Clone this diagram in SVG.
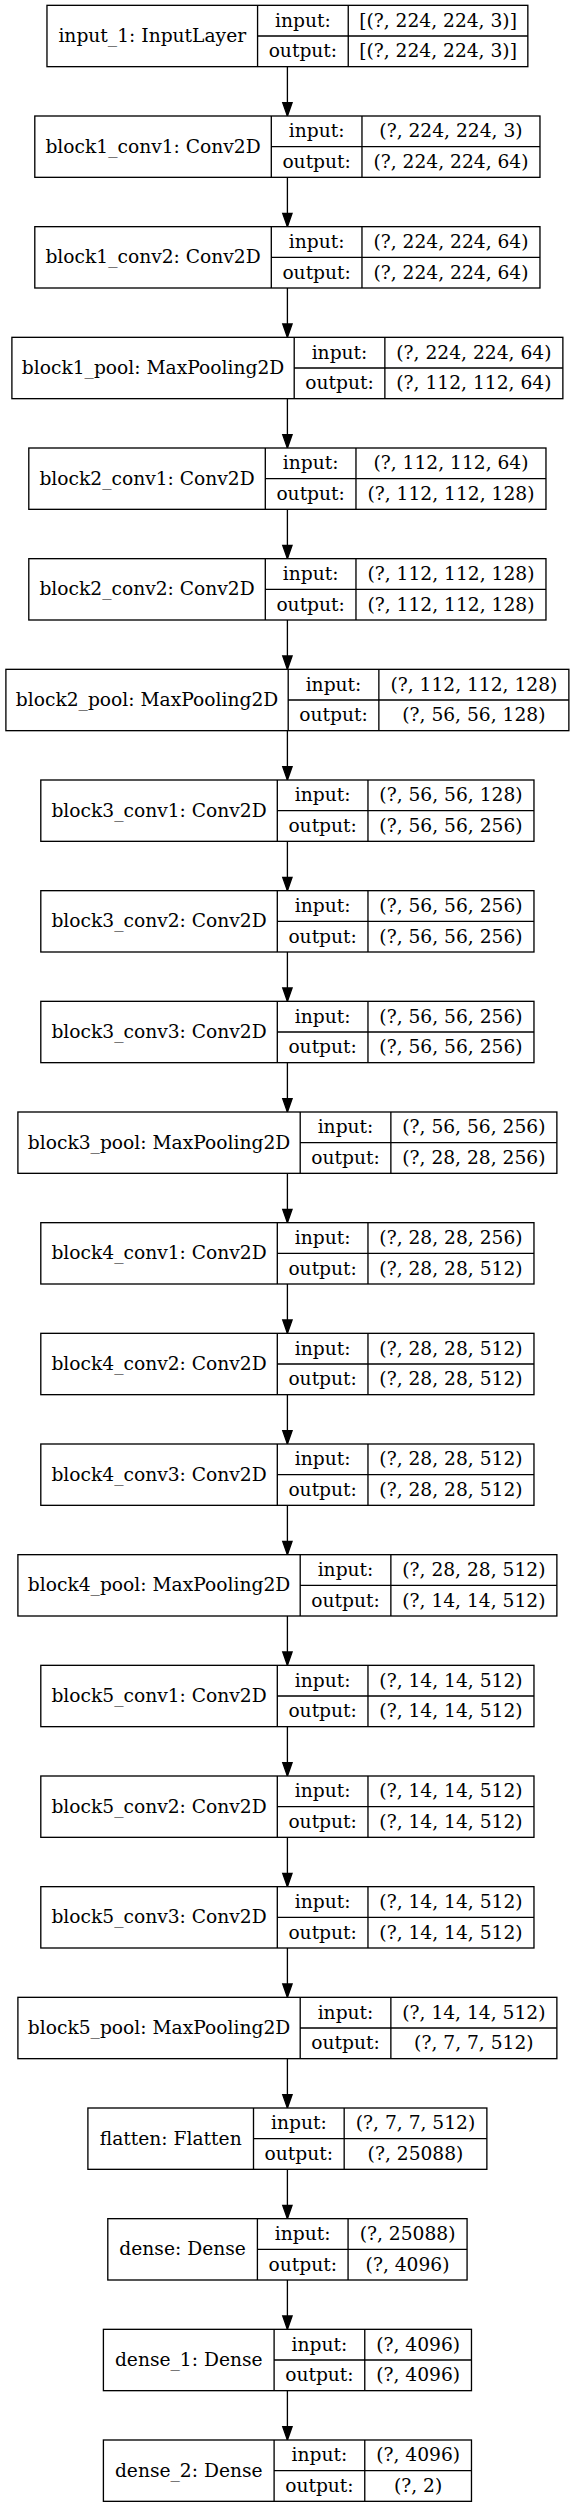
<svg xmlns="http://www.w3.org/2000/svg" width="575" height="2508" viewBox="0 0 575 2508">
<style>
.bg{fill:#fff}
.box{fill:#fff;stroke:#000;stroke-width:1.33}
.sep{fill:none;stroke:#000;stroke-width:1.33}
.t{font-family:"DejaVu Serif","Liberation Serif",serif;font-size:18.67px;text-anchor:middle;fill:#000}
.edge{fill:none;stroke:#000;stroke-width:1.33;marker-end:url(#arr)}
</style>
<defs>
<marker id="arr" markerUnits="userSpaceOnUse" markerWidth="16" markerHeight="12" refX="13.33" refY="4.67" orient="auto" viewBox="-1 -1 16 12">
<path d="M0,0 L13.33,4.67 L0,9.33 Z" fill="#000" stroke="#000" stroke-width="1.33"/>
</marker>
</defs>
<rect class="bg" x="0" y="0" width="575" height="2508"/>
<g id="connectors">
<line class="edge" x1="287.4" y1="66.67" x2="287.4" y2="116.00"/>
<line class="edge" x1="287.4" y1="177.33" x2="287.4" y2="226.67"/>
<line class="edge" x1="287.4" y1="288.00" x2="287.4" y2="337.33"/>
<line class="edge" x1="287.4" y1="398.67" x2="287.4" y2="448.00"/>
<line class="edge" x1="287.4" y1="509.33" x2="287.4" y2="558.67"/>
<line class="edge" x1="287.4" y1="620.00" x2="287.4" y2="669.33"/>
<line class="edge" x1="287.4" y1="730.67" x2="287.4" y2="780.00"/>
<line class="edge" x1="287.4" y1="841.33" x2="287.4" y2="890.67"/>
<line class="edge" x1="287.4" y1="952.00" x2="287.4" y2="1001.33"/>
<line class="edge" x1="287.4" y1="1062.67" x2="287.4" y2="1112.00"/>
<line class="edge" x1="287.4" y1="1173.33" x2="287.4" y2="1222.67"/>
<line class="edge" x1="287.4" y1="1284.00" x2="287.4" y2="1333.33"/>
<line class="edge" x1="287.4" y1="1394.67" x2="287.4" y2="1444.00"/>
<line class="edge" x1="287.4" y1="1505.33" x2="287.4" y2="1554.67"/>
<line class="edge" x1="287.4" y1="1616.00" x2="287.4" y2="1665.33"/>
<line class="edge" x1="287.4" y1="1726.67" x2="287.4" y2="1776.00"/>
<line class="edge" x1="287.4" y1="1837.33" x2="287.4" y2="1886.67"/>
<line class="edge" x1="287.4" y1="1948.00" x2="287.4" y2="1997.33"/>
<line class="edge" x1="287.4" y1="2058.67" x2="287.4" y2="2108.00"/>
<line class="edge" x1="287.4" y1="2169.33" x2="287.4" y2="2218.67"/>
<line class="edge" x1="287.4" y1="2280.00" x2="287.4" y2="2329.33"/>
<line class="edge" x1="287.4" y1="2390.67" x2="287.4" y2="2440.00"/>
</g>

<g id="input_1" transform="translate(46.97,5.33)">
<rect class="box" x="0" y="0" width="480.87" height="61.33"/>
<path class="sep" d="M210.6,0V61.33M301.27,0V61.33M210.6,30.67H480.87"/>
<text class="t" x="105.3" y="36.67">input_1: InputLayer</text>
<text class="t" x="255.93" y="21.33">input:</text>
<text class="t" x="255.93" y="52">output:</text>
<text class="t" x="391.07" y="21.33">[(?, 224, 224, 3)]</text>
<text class="t" x="391.07" y="52">[(?, 224, 224, 3)]</text>
</g>

<g id="block1_conv1" transform="translate(34.8,116.00)">
<rect class="box" x="0" y="0" width="505.17" height="61.33"/>
<path class="sep" d="M236.5,0V61.33M327.17,0V61.33M236.5,30.67H505.17"/>
<text class="t" x="118.25" y="36.67">block1_conv1: Conv2D</text>
<text class="t" x="281.83" y="21.33">input:</text>
<text class="t" x="281.83" y="52">output:</text>
<text class="t" x="416.17" y="21.33">(?, 224, 224, 3)</text>
<text class="t" x="416.17" y="52">(?, 224, 224, 64)</text>
</g>

<g id="block1_conv2" transform="translate(34.8,226.67)">
<rect class="box" x="0" y="0" width="505.17" height="61.33"/>
<path class="sep" d="M236.5,0V61.33M327.17,0V61.33M236.5,30.67H505.17"/>
<text class="t" x="118.25" y="36.67">block1_conv2: Conv2D</text>
<text class="t" x="281.83" y="21.33">input:</text>
<text class="t" x="281.83" y="52">output:</text>
<text class="t" x="416.17" y="21.33">(?, 224, 224, 64)</text>
<text class="t" x="416.17" y="52">(?, 224, 224, 64)</text>
</g>

<g id="block1_pool" transform="translate(11.9,337.33)">
<rect class="box" x="0" y="0" width="550.97" height="61.33"/>
<path class="sep" d="M282.3,0V61.33M372.97,0V61.33M282.3,30.67H550.97"/>
<text class="t" x="141.15" y="36.67">block1_pool: MaxPooling2D</text>
<text class="t" x="327.63" y="21.33">input:</text>
<text class="t" x="327.63" y="52">output:</text>
<text class="t" x="461.97" y="21.33">(?, 224, 224, 64)</text>
<text class="t" x="461.97" y="52">(?, 112, 112, 64)</text>
</g>

<g id="block2_conv1" transform="translate(28.8,448.00)">
<rect class="box" x="0" y="0" width="517.17" height="61.33"/>
<path class="sep" d="M236.5,0V61.33M327.17,0V61.33M236.5,30.67H517.17"/>
<text class="t" x="118.25" y="36.67">block2_conv1: Conv2D</text>
<text class="t" x="281.83" y="21.33">input:</text>
<text class="t" x="281.83" y="52">output:</text>
<text class="t" x="422.17" y="21.33">(?, 112, 112, 64)</text>
<text class="t" x="422.17" y="52">(?, 112, 112, 128)</text>
</g>

<g id="block2_conv2" transform="translate(28.8,558.67)">
<rect class="box" x="0" y="0" width="517.17" height="61.33"/>
<path class="sep" d="M236.5,0V61.33M327.17,0V61.33M236.5,30.67H517.17"/>
<text class="t" x="118.25" y="36.67">block2_conv2: Conv2D</text>
<text class="t" x="281.83" y="21.33">input:</text>
<text class="t" x="281.83" y="52">output:</text>
<text class="t" x="422.17" y="21.33">(?, 112, 112, 128)</text>
<text class="t" x="422.17" y="52">(?, 112, 112, 128)</text>
</g>

<g id="block2_pool" transform="translate(5.9,669.33)">
<rect class="box" x="0" y="0" width="562.97" height="61.33"/>
<path class="sep" d="M282.3,0V61.33M372.97,0V61.33M282.3,30.67H562.97"/>
<text class="t" x="141.15" y="36.67">block2_pool: MaxPooling2D</text>
<text class="t" x="327.63" y="21.33">input:</text>
<text class="t" x="327.63" y="52">output:</text>
<text class="t" x="467.97" y="21.33">(?, 112, 112, 128)</text>
<text class="t" x="467.97" y="52">(?, 56, 56, 128)</text>
</g>

<g id="block3_conv1" transform="translate(40.8,780.00)">
<rect class="box" x="0" y="0" width="493.17" height="61.33"/>
<path class="sep" d="M236.5,0V61.33M327.17,0V61.33M236.5,30.67H493.17"/>
<text class="t" x="118.25" y="36.67">block3_conv1: Conv2D</text>
<text class="t" x="281.83" y="21.33">input:</text>
<text class="t" x="281.83" y="52">output:</text>
<text class="t" x="410.17" y="21.33">(?, 56, 56, 128)</text>
<text class="t" x="410.17" y="52">(?, 56, 56, 256)</text>
</g>

<g id="block3_conv2" transform="translate(40.8,890.67)">
<rect class="box" x="0" y="0" width="493.17" height="61.33"/>
<path class="sep" d="M236.5,0V61.33M327.17,0V61.33M236.5,30.67H493.17"/>
<text class="t" x="118.25" y="36.67">block3_conv2: Conv2D</text>
<text class="t" x="281.83" y="21.33">input:</text>
<text class="t" x="281.83" y="52">output:</text>
<text class="t" x="410.17" y="21.33">(?, 56, 56, 256)</text>
<text class="t" x="410.17" y="52">(?, 56, 56, 256)</text>
</g>

<g id="block3_conv3" transform="translate(40.8,1001.33)">
<rect class="box" x="0" y="0" width="493.17" height="61.33"/>
<path class="sep" d="M236.5,0V61.33M327.17,0V61.33M236.5,30.67H493.17"/>
<text class="t" x="118.25" y="36.67">block3_conv3: Conv2D</text>
<text class="t" x="281.83" y="21.33">input:</text>
<text class="t" x="281.83" y="52">output:</text>
<text class="t" x="410.17" y="21.33">(?, 56, 56, 256)</text>
<text class="t" x="410.17" y="52">(?, 56, 56, 256)</text>
</g>

<g id="block3_pool" transform="translate(17.9,1112.00)">
<rect class="box" x="0" y="0" width="538.97" height="61.33"/>
<path class="sep" d="M282.3,0V61.33M372.97,0V61.33M282.3,30.67H538.97"/>
<text class="t" x="141.15" y="36.67">block3_pool: MaxPooling2D</text>
<text class="t" x="327.63" y="21.33">input:</text>
<text class="t" x="327.63" y="52">output:</text>
<text class="t" x="455.97" y="21.33">(?, 56, 56, 256)</text>
<text class="t" x="455.97" y="52">(?, 28, 28, 256)</text>
</g>

<g id="block4_conv1" transform="translate(40.8,1222.67)">
<rect class="box" x="0" y="0" width="493.17" height="61.33"/>
<path class="sep" d="M236.5,0V61.33M327.17,0V61.33M236.5,30.67H493.17"/>
<text class="t" x="118.25" y="36.67">block4_conv1: Conv2D</text>
<text class="t" x="281.83" y="21.33">input:</text>
<text class="t" x="281.83" y="52">output:</text>
<text class="t" x="410.17" y="21.33">(?, 28, 28, 256)</text>
<text class="t" x="410.17" y="52">(?, 28, 28, 512)</text>
</g>

<g id="block4_conv2" transform="translate(40.8,1333.33)">
<rect class="box" x="0" y="0" width="493.17" height="61.33"/>
<path class="sep" d="M236.5,0V61.33M327.17,0V61.33M236.5,30.67H493.17"/>
<text class="t" x="118.25" y="36.67">block4_conv2: Conv2D</text>
<text class="t" x="281.83" y="21.33">input:</text>
<text class="t" x="281.83" y="52">output:</text>
<text class="t" x="410.17" y="21.33">(?, 28, 28, 512)</text>
<text class="t" x="410.17" y="52">(?, 28, 28, 512)</text>
</g>

<g id="block4_conv3" transform="translate(40.8,1444.00)">
<rect class="box" x="0" y="0" width="493.17" height="61.33"/>
<path class="sep" d="M236.5,0V61.33M327.17,0V61.33M236.5,30.67H493.17"/>
<text class="t" x="118.25" y="36.67">block4_conv3: Conv2D</text>
<text class="t" x="281.83" y="21.33">input:</text>
<text class="t" x="281.83" y="52">output:</text>
<text class="t" x="410.17" y="21.33">(?, 28, 28, 512)</text>
<text class="t" x="410.17" y="52">(?, 28, 28, 512)</text>
</g>

<g id="block4_pool" transform="translate(17.9,1554.67)">
<rect class="box" x="0" y="0" width="538.97" height="61.33"/>
<path class="sep" d="M282.3,0V61.33M372.97,0V61.33M282.3,30.67H538.97"/>
<text class="t" x="141.15" y="36.67">block4_pool: MaxPooling2D</text>
<text class="t" x="327.63" y="21.33">input:</text>
<text class="t" x="327.63" y="52">output:</text>
<text class="t" x="455.97" y="21.33">(?, 28, 28, 512)</text>
<text class="t" x="455.97" y="52">(?, 14, 14, 512)</text>
</g>

<g id="block5_conv1" transform="translate(40.8,1665.33)">
<rect class="box" x="0" y="0" width="493.17" height="61.33"/>
<path class="sep" d="M236.5,0V61.33M327.17,0V61.33M236.5,30.67H493.17"/>
<text class="t" x="118.25" y="36.67">block5_conv1: Conv2D</text>
<text class="t" x="281.83" y="21.33">input:</text>
<text class="t" x="281.83" y="52">output:</text>
<text class="t" x="410.17" y="21.33">(?, 14, 14, 512)</text>
<text class="t" x="410.17" y="52">(?, 14, 14, 512)</text>
</g>

<g id="block5_conv2" transform="translate(40.8,1776.00)">
<rect class="box" x="0" y="0" width="493.17" height="61.33"/>
<path class="sep" d="M236.5,0V61.33M327.17,0V61.33M236.5,30.67H493.17"/>
<text class="t" x="118.25" y="36.67">block5_conv2: Conv2D</text>
<text class="t" x="281.83" y="21.33">input:</text>
<text class="t" x="281.83" y="52">output:</text>
<text class="t" x="410.17" y="21.33">(?, 14, 14, 512)</text>
<text class="t" x="410.17" y="52">(?, 14, 14, 512)</text>
</g>

<g id="block5_conv3" transform="translate(40.8,1886.67)">
<rect class="box" x="0" y="0" width="493.17" height="61.33"/>
<path class="sep" d="M236.5,0V61.33M327.17,0V61.33M236.5,30.67H493.17"/>
<text class="t" x="118.25" y="36.67">block5_conv3: Conv2D</text>
<text class="t" x="281.83" y="21.33">input:</text>
<text class="t" x="281.83" y="52">output:</text>
<text class="t" x="410.17" y="21.33">(?, 14, 14, 512)</text>
<text class="t" x="410.17" y="52">(?, 14, 14, 512)</text>
</g>

<g id="block5_pool" transform="translate(17.9,1997.33)">
<rect class="box" x="0" y="0" width="538.97" height="61.33"/>
<path class="sep" d="M282.3,0V61.33M372.97,0V61.33M282.3,30.67H538.97"/>
<text class="t" x="141.15" y="36.67">block5_pool: MaxPooling2D</text>
<text class="t" x="327.63" y="21.33">input:</text>
<text class="t" x="327.63" y="52">output:</text>
<text class="t" x="455.97" y="21.33">(?, 14, 14, 512)</text>
<text class="t" x="455.97" y="52">(?, 7, 7, 512)</text>
</g>

<g id="flatten" transform="translate(87.9,2108.00)">
<rect class="box" x="0" y="0" width="398.97" height="61.33"/>
<path class="sep" d="M165.6,0V61.33M256.27,0V61.33M165.6,30.67H398.97"/>
<text class="t" x="82.8" y="36.67">flatten: Flatten</text>
<text class="t" x="210.93" y="21.33">input:</text>
<text class="t" x="210.93" y="52">output:</text>
<text class="t" x="327.62" y="21.33">(?, 7, 7, 512)</text>
<text class="t" x="327.62" y="52">(?, 25088)</text>
</g>

<g id="dense" transform="translate(107.8,2218.67)">
<rect class="box" x="0" y="0" width="359.27" height="61.33"/>
<path class="sep" d="M149.6,0V61.33M240.27,0V61.33M149.6,30.67H359.27"/>
<text class="t" x="74.8" y="36.67">dense: Dense</text>
<text class="t" x="194.93" y="21.33">input:</text>
<text class="t" x="194.93" y="52">output:</text>
<text class="t" x="299.77" y="21.33">(?, 25088)</text>
<text class="t" x="299.77" y="52">(?, 4096)</text>
</g>

<g id="dense_1" transform="translate(103.4,2329.33)">
<rect class="box" x="0" y="0" width="368.07" height="61.33"/>
<path class="sep" d="M170.7,0V61.33M261.37,0V61.33M170.7,30.67H368.07"/>
<text class="t" x="85.35" y="36.67">dense_1: Dense</text>
<text class="t" x="216.03" y="21.33">input:</text>
<text class="t" x="216.03" y="52">output:</text>
<text class="t" x="314.72" y="21.33">(?, 4096)</text>
<text class="t" x="314.72" y="52">(?, 4096)</text>
</g>

<g id="dense_2" transform="translate(103.4,2440.00)">
<rect class="box" x="0" y="0" width="368.07" height="61.33"/>
<path class="sep" d="M170.7,0V61.33M261.37,0V61.33M170.7,30.67H368.07"/>
<text class="t" x="85.35" y="36.67">dense_2: Dense</text>
<text class="t" x="216.03" y="21.33">input:</text>
<text class="t" x="216.03" y="52">output:</text>
<text class="t" x="314.72" y="21.33">(?, 4096)</text>
<text class="t" x="314.72" y="52">(?, 2)</text>
</g>
</svg>
